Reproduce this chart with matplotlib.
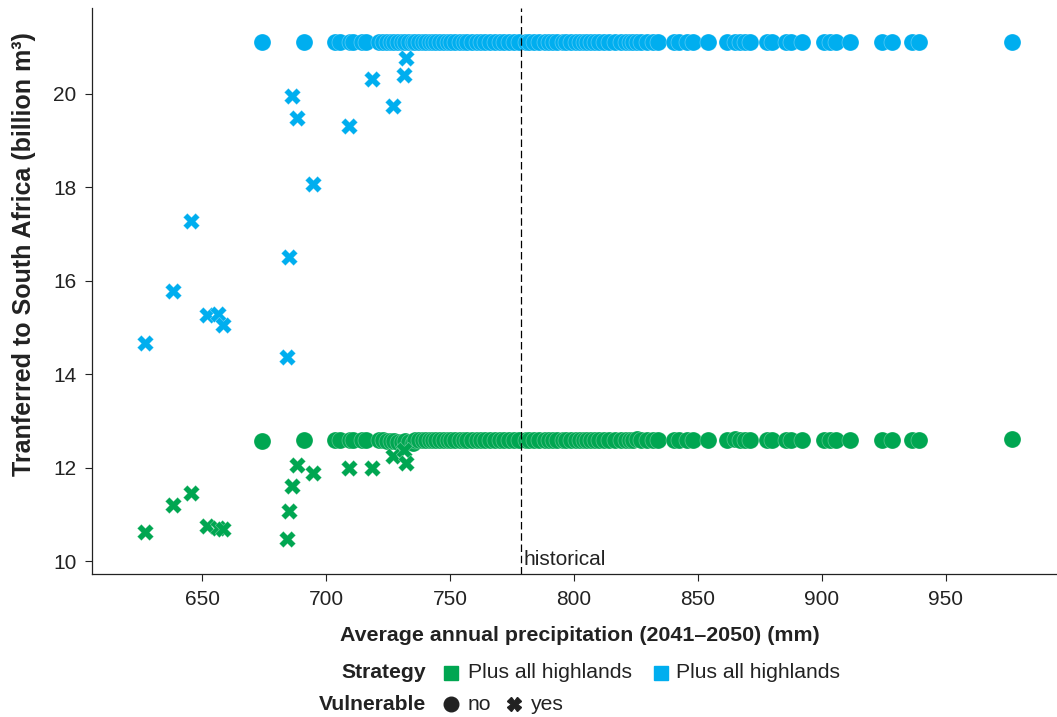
import numpy as np
import matplotlib
matplotlib.use("Agg")
import matplotlib.pyplot as plt
from matplotlib.lines import Line2D

plt.rcParams['font.family'] = ['Liberation Sans', 'DejaVu Sans']

green = '#00A651'
blue = '#00AEEF'

# non-vulnerable runs (same precipitation for both strategies)
precip_no = [674.0, 691.2, 703.5, 705.5, 709.5, 711.0, 714.5, 716.0, 721.5, 723.0,
             724.5, 726.0, 727.5, 729.0, 730.5, 732.0, 733.5, 735.0, 736.0, 737.5,
             739.0, 740.5, 742.0, 743.0, 744.5, 746.0, 747.5, 749.0, 750.5, 752.0,
             754.0, 755.5, 757.0, 759.0, 761.0, 762.5, 764.0, 766.0, 768.0, 770.0,
             772.0, 774.0, 776.0, 778.0, 780.5, 782.0, 784.0, 786.0, 788.5, 790.0,
             791.5, 793.0, 795.5, 797.0, 799.0, 801.0, 802.5, 804.0, 805.5, 807.0,
             808.5, 810.0, 812.0, 814.0, 816.5, 819.0, 821.0, 822.5, 824.0, 825.5,
             827.0, 829.5, 832.0, 834.0, 840.5, 842.5, 845.5, 848.0, 854.0, 862.0,
             865.0, 867.0, 869.0, 871.0, 878.0, 880.0, 885.5, 887.5, 892.0, 901.0,
             903.5, 906.0, 911.5, 924.5, 928.5, 936.5, 939.5, 977.0]
green_no = [12.58, 12.59, 12.59, 12.59, 12.59, 12.59, 12.59, 12.59, 12.59, 12.59,
            12.58, 12.58, 12.57, 12.55, 12.55, 12.58, 12.56, 12.52, 12.59, 12.59,
            12.59, 12.59, 12.59, 12.59, 12.59, 12.59, 12.59, 12.59, 12.59, 12.59,
            12.59, 12.59, 12.59, 12.59, 12.59, 12.59, 12.59, 12.59, 12.59, 12.59,
            12.59, 12.59, 12.59, 12.59, 12.59, 12.59, 12.59, 12.59, 12.59, 12.59,
            12.59, 12.59, 12.59, 12.59, 12.59, 12.59, 12.59, 12.59, 12.59, 12.59,
            12.59, 12.59, 12.59, 12.59, 12.59, 12.59, 12.59, 12.59, 12.59, 12.61,
            12.59, 12.59, 12.59, 12.59, 12.59, 12.59, 12.59, 12.59, 12.59, 12.59,
            12.61, 12.60, 12.59, 12.59, 12.60, 12.60, 12.60, 12.60, 12.59, 12.60,
            12.60, 12.60, 12.60, 12.60, 12.60, 12.60, 12.60, 12.61]
blue_no = [21.12, 21.12, 21.12, 21.12, 21.12, 21.12, 21.12, 21.12, 21.12, 21.12,
           21.12, 21.12, 21.12, 21.12, 21.12, 21.12, 21.12, 21.12, 21.12, 21.12,
           21.12, 21.12, 21.12, 21.12, 21.12, 21.12, 21.12, 21.12, 21.12, 21.12,
           21.12, 21.12, 21.12, 21.12, 21.12, 21.12, 21.12, 21.12, 21.12, 21.12,
           21.12, 21.12, 21.12, 21.12, 21.12, 21.12, 21.12, 21.12, 21.12, 21.12,
           21.12, 21.12, 21.12, 21.12, 21.12, 21.12, 21.12, 21.12, 21.12, 21.12,
           21.12, 21.12, 21.12, 21.12, 21.12, 21.12, 21.12, 21.12, 21.12, 21.12,
           21.12, 21.12, 21.12, 21.12, 21.12, 21.12, 21.12, 21.12, 21.12, 21.12,
           21.12, 21.12, 21.12, 21.12, 21.12, 21.12, 21.12, 21.12, 21.12, 21.12,
           21.12, 21.12, 21.12, 21.12, 21.12, 21.12, 21.12, 21.12]

# vulnerable runs
precip_yes = [627.0, 638.4, 645.4, 651.8, 656.2, 658.4, 684.4, 685.1, 686.4, 688.4,
              694.6, 709.1, 718.7, 726.9, 731.6, 732.4]
green_yes = [10.63, 11.21, 11.47, 10.75, 10.72, 10.68, 10.47, 11.07, 11.61, 12.06,
             11.88, 12.00, 12.00, 12.25, 12.39, 12.11]
blue_yes = [14.67, 15.79, 17.27, 15.26, 15.28, 15.06, 14.37, 16.51, 19.96, 19.49,
            18.08, 19.31, 20.32, 19.75, 20.41, 20.76]

historical = 778.6

fig = plt.figure(figsize=(10.57, 7.17), dpi=100)
ax = fig.add_axes([0.087, 0.199, 0.913, 0.79])

edge = (1, 1, 1, 0.35)
ax.scatter(precip_no, green_no, s=150, marker='o', color=green, edgecolors=edge, linewidths=0.5, zorder=2)
ax.scatter(precip_no, blue_no, s=150, marker='o', color=blue, edgecolors=edge, linewidths=0.5, zorder=2)
ax.scatter(precip_yes, green_yes, s=140, marker='X', color=green, edgecolors=edge, linewidths=0.5, zorder=3)
ax.scatter(precip_yes, blue_yes, s=140, marker='X', color=blue, edgecolors=edge, linewidths=0.5, zorder=3)

ax.axvline(historical, color='black', lw=0.9, ls=(0, (6, 3)), zorder=5)
ax.text(historical + 1.0, 9.84, 'historical', fontsize=15, ha='left', va='bottom', color='#222222')

ax.set_xlim(605.5, 995)
ax.set_ylim(9.72, 21.84)
ax.set_xticks([650, 700, 750, 800, 850, 900, 950])
ax.set_yticks([10, 12, 14, 16, 18, 20])
ax.tick_params(labelsize=15, length=5, width=0.8, colors='#222222', pad=6)
for side in ['top', 'right']:
    ax.spines[side].set_visible(False)
for side in ['left', 'bottom']:
    ax.spines[side].set_linewidth(0.9)
    ax.spines[side].set_color('#222222')

ax.set_xlabel('Average annual precipitation (2041–2050) (mm)', fontsize=15.4, fontweight='bold',
              color='#222222', labelpad=11)
ax.xaxis.set_label_coords(0.506, -0.092)
ax.set_ylabel('Tranferred to South Africa (billion m³)', fontsize=18, fontweight='bold',
              color='#222222')
ax.yaxis.set_label_coords(-0.058, 0.566)

# legend rows
W, H = 1057, 717
def fx(px):
    return px / W
def fy(py):
    return 1 - py / H

fs = 15.2
r1, r2 = 673, 704
fig.text(fx(426), fy(r1), 'Strategy', fontsize=fs, fontweight='bold', ha='right', va='center', color='#222222')
fig.text(fx(426), fy(r2), 'Vulnerable', fontsize=fs, fontweight='bold', ha='right', va='center', color='#222222')
fig.add_artist(Line2D([fx(450.7)], [fy(r1)], transform=fig.transFigure, marker='s', ms=10.3, color=green, ls=''))
fig.text(fx(467.6), fy(r1), 'Plus all highlands', fontsize=fs, ha='left', va='center', color='#222222')
fig.add_artist(Line2D([fx(661)], [fy(r1)], transform=fig.transFigure, marker='s', ms=10.3, color=blue, ls=''))
fig.text(fx(676), fy(r1), 'Plus all highlands', fontsize=fs, ha='left', va='center', color='#222222')
fig.add_artist(Line2D([fx(450.7)], [fy(r2)], transform=fig.transFigure, marker='o', ms=10.5, color='#222222', ls=''))
fig.text(fx(467.9), fy(r2), 'no', fontsize=fs, ha='left', va='center', color='#222222')
fig.add_artist(Line2D([fx(514)], [fy(r2)], transform=fig.transFigure, marker='X', ms=10, color='#222222', ls=''))
fig.text(fx(531), fy(r2), 'yes', fontsize=fs, ha='left', va='center', color='#222222')

fig.savefig('out.png', dpi=100)
